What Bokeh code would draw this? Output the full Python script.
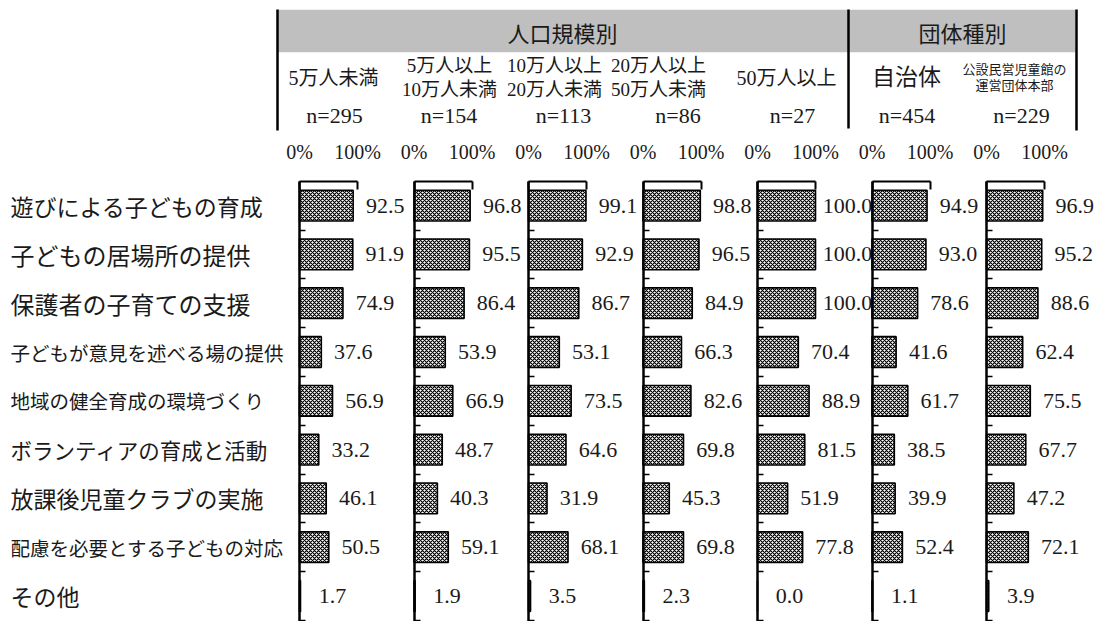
from bokeh.plotting import figure
from bokeh.models import Range1d, LinearAxis, FixedTicker, ColumnDataSource
from bokeh.core.properties import value
from bokeh.embed import file_html
from bokeh.resources import INLINE

# --- data -----------------------------------------------------------------
categories = [
    "遊びによる子どもの育成",
    "子どもの居場所の提供",
    "保護者の子育ての支援",
    "子どもが意見を述べる場の提供",
    "地域の健全育成の環境づくり",
    "ボランティアの育成と活動",
    "放課後児童クラブの実施",
    "配慮を必要とする子どもの対応",
    "その他",
]

group_titles = ["人口規模別", "団体種別"]
segment_names = [
    "5万人未満",
    "5万人以上\n10万人未満",
    "10万人以上\n20万人未満",
    "20万人以上\n50万人未満",
    "50万人以上",
    "自治体",
    "公設民営児童館の\n運営団体本部",
]
sample_sizes = [295, 154, 113, 86, 27, 454, 229]
pct_ticks = [0, 100]
pct_tick_labels = ["0%", "100%"]

pop_under_50k = [92.5, 91.9, 74.9, 37.6, 56.9, 33.2, 46.1, 50.5, 1.7]
pop_50k_100k = [96.8, 95.5, 86.4, 53.9, 66.9, 48.7, 40.3, 59.1, 1.9]
pop_100k_200k = [99.1, 92.9, 86.7, 53.1, 73.5, 64.6, 31.9, 68.1, 3.5]
pop_200k_500k = [98.8, 96.5, 84.9, 66.3, 82.6, 69.8, 45.3, 69.8, 2.3]
pop_500k_plus = [100.0, 100.0, 100.0, 70.4, 88.9, 81.5, 51.9, 77.8, 0.0]
municipalities = [94.9, 93.0, 78.6, 41.6, 61.7, 38.5, 39.9, 52.4, 1.1]
operator_hq = [96.9, 95.2, 88.6, 62.4, 75.5, 67.7, 47.2, 72.1, 3.9]

panels = [pop_under_50k, pop_50k_100k, pop_100k_200k, pop_200k_500k,
          pop_500k_plus, municipalities, operator_hq]

# --- page geometry (pixels) ------------------------------------------------
W, H = 1096, 621
PANEL_X0 = 299.0      # left axis of the first small chart
PANEL_STEP = 114.5    # distance between small charts
PX_PER_PCT = 0.58     # 100% spans 58 px
ROW_TOP = 180.7       # top axis line
ROW_PITCH = 48.8      # height of one category row

NUM_FONT = value("Liberation Serif")
MIXED_FONT = value("Liberation Serif, Noto Sans CJK JP")
SANS = value("Noto Sans CJK JP")
INK = "#1a1a1a"

p = figure(width=W, height=H, x_range=Range1d(0, W), y_range=Range1d(H, 0),
           x_axis_type=None, y_axis_type=None, min_border=0,
           toolbar_location=None, output_backend="svg",
           outline_line_color=None, background_fill_color="white")

# rows: 0 at the top axis, 9 at the bottom
p.extra_y_ranges = {"rows": Range1d(start=(H - ROW_TOP) / ROW_PITCH,
                                     end=-ROW_TOP / ROW_PITCH)}
row_pos = [i + 0.5 for i in range(len(categories))]

# one percentage scale per small chart
for k in range(len(panels)):
    x0 = PANEL_X0 + PANEL_STEP * k
    p.extra_x_ranges[f"p{k}"] = Range1d(start=-x0 / PX_PER_PCT,
                                         end=(W - x0) / PX_PER_PCT)

# --- header ------------------------------------------------------------------
p.quad(left=[277], right=[1075], top=[9.3], bottom=[51.7],
       fill_color="#bfbfbf", line_color=None)
p.segment(x0=[277, 848, 1076], y0=[9, 9, 9], x1=[277, 848, 1076],
          y1=[130, 128, 130], line_color="black", line_width=2.5)

p.text(x=[562, 962], y=[31, 31], text=group_titles, text_font=SANS,
       text_font_size="22px", text_color=INK, text_align="center",
       text_baseline="middle")

seg_src = ColumnDataSource(dict(
    x=[333, 449, 554, 658, 786, 906, 1014],
    y=[77, 77, 77, 77, 77, 77, 77],
    text=segment_names,
    size=["20px", "19px", "19px", "19px", "20px", "23px", "13px"],
))
p.text(x="x", y="y", text="text", source=seg_src, text_font=MIXED_FONT,
       text_font_size="size", text_color=INK, text_align="center",
       text_baseline="middle", text_line_height=1.1)

n_centers = [PANEL_X0 + 35 + PANEL_STEP * k for k in range(len(panels))]
p.text(x=n_centers, y=[115] * len(panels),
       text=[f"n={n}" for n in sample_sizes], text_font=NUM_FONT,
       text_font_size="22px", text_color=INK, text_align="center",
       text_baseline="middle")

# --- category labels -------------------------------------------------------
lab_src = ColumnDataSource(dict(
    x=[10] * len(categories),
    y=row_pos,
    text=categories,
    size=["23px", "24px", "24px", "19.5px", "19.5px", "21.5px", "23px",
          "19.5px", "23px"],
))
p.text(x="x", y="y", text="text", source=lab_src, y_range_name="rows",
       text_font=SANS, text_font_size="size", text_color=INK,
       text_align="left", text_baseline="middle")

# --- small bar charts --------------------------------------------------------
for k, vals in enumerate(panels):
    rn = f"p{k}"
    src = ColumnDataSource(dict(y=row_pos, v=vals,
                                lbl=[f"{v:.1f}" for v in vals]))
    p.hbar(y="y", left=0, right="v", height=0.63, source=src,
           x_range_name=rn, y_range_name="rows",
           fill_color="white", hatch_pattern="x", hatch_color="black",
           hatch_scale=4, hatch_weight=1.2, line_color="black",
           line_width=1.6)
    p.text(x="v", y="y", text="lbl", source=src, x_range_name=rn,
           y_range_name="rows", x_offset=32, text_align="center",
           text_baseline="middle", text_font=NUM_FONT, text_font_size="22px",
           text_color=INK)

    top_axis = LinearAxis(x_range_name=rn, y_range_name="rows",
                          fixed_location=0, bounds=(0, 100),
                          ticker=FixedTicker(ticks=pct_ticks, minor_ticks=[]),
                          major_label_overrides=dict(zip(pct_ticks, pct_tick_labels)),
                          major_tick_in=8, major_tick_out=0,
                          major_label_standoff=18,
                          axis_line_width=2, axis_line_color="black",
                          major_tick_line_width=2, major_tick_line_color="black",
                          major_label_text_font="Liberation Serif",
                          major_label_text_font_size="20px",
                          major_label_text_color=INK)
    p.add_layout(top_axis, "above")

    # category separators: ticks on row boundaries, no labels
    left_axis = LinearAxis(x_range_name=rn, y_range_name="rows",
                           fixed_location=0, bounds=(0, 9.05),
                           ticker=FixedTicker(ticks=list(range(1, 10)),
                                              minor_ticks=[]),
                           major_tick_in=6, major_tick_out=0,
                           major_label_text_color=None,
                           axis_line_width=2.5, axis_line_color="black",
                           major_tick_line_width=1.5,
                           major_tick_line_color="black")
    p.add_layout(left_axis, "left")

open("out.html", "w").write(file_html(p, INLINE))
